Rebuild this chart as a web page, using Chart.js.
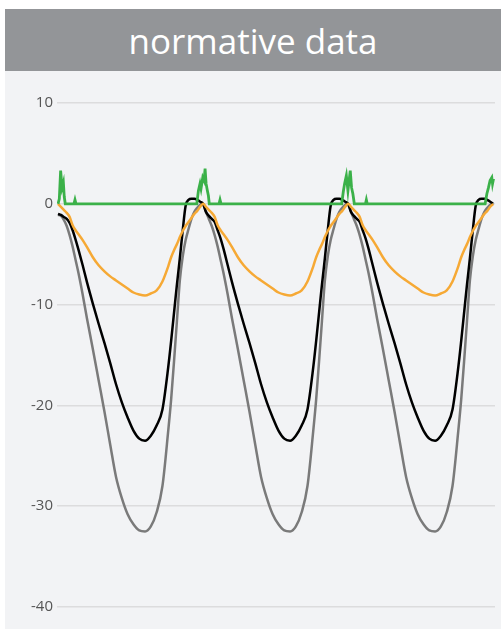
<!DOCTYPE html>
<html>
<head>
<meta charset="utf-8">
<script src="https://cdn.jsdelivr.net/npm/chart.js@4/dist/chart.umd.min.js"></script>
<style>
  html, body { margin: 0; padding: 0; background: #ffffff; }
  body { width: 501px; height: 629px; position: relative; overflow: hidden; }
  #title {
    position: absolute; left: 5px; top: 9px; width: 496px; height: 62px;
    background: #939598; color: #ffffff;
    font-family: "Open Sans", "Noto Sans", sans-serif; font-weight: 400; font-size: 35px;
    line-height: 64px; text-align: center; overflow: hidden;
  }
  #panel { position: absolute; left: 5px; top: 71px; width: 496px; height: 558px; background: #f2f3f5; }
  #chart { display: block; }
</style>
</head>
<body>
<div id="title">normative data</div>
<div id="panel"><canvas id="chart" width="496" height="558"></canvas></div>
<script>
// Phase of the breathing cycle (percent, three cycles back to back)
const phase = [
  0, 2, 4, 6, 8, 10, 12, 14, 17, 20, 24, 28, 32, 36, 40, 44, 48, 52, 56, 60, 64, 68, 72, 76, 78, 80, 82, 84, 86, 88, 90, 92, 94, 96, 98,
  100, 102, 104, 106, 108, 110, 112, 114, 117, 120, 124, 128, 132, 136, 140, 144, 148, 152, 156, 160, 164, 168, 172, 176, 178, 180, 182, 184, 186, 188, 190, 192, 194, 196, 198,
  200, 202, 204, 206, 208, 210, 212, 214, 217, 220, 224, 228, 232, 236, 240, 244, 248, 252, 256, 260, 264, 268, 272, 276, 278, 280, 282, 284, 286, 288, 290, 292, 294, 296, 298,
  300
];

const blackValues = [
  -1.0, -1.1, -1.3, -1.5, -1.9, -2.6, -3.5, -4.5, -6.1, -7.8, -9.9, -11.9, -13.8, -15.8, -17.9, -19.7, -21.2, -22.5, -23.3, -23.5, -23.0, -22.0, -20.4, -16.2, -13.6, -10.8, -8.0, -5.4, -2.6, -0.2, 0.4, 0.5, 0.5, 0.4, 0.2,
  0, -0.8, -1.2, -1.5, -1.8, -2.6, -3.4, -4.4, -6.1, -7.8, -9.9, -11.9, -13.8, -15.8, -17.9, -19.7, -21.2, -22.5, -23.3, -23.5, -23.0, -22.0, -20.4, -16.2, -13.6, -10.8, -8.0, -5.4, -2.6, -0.2, 0.4, 0.5, 0.5, 0.4, 0.2,
  0, -0.8, -1.2, -1.5, -1.8, -2.6, -3.4, -4.4, -6.1, -7.8, -9.9, -11.9, -13.8, -15.8, -17.9, -19.7, -21.2, -22.5, -23.3, -23.5, -23.0, -22.0, -20.4, -16.2, -13.6, -10.8, -8.0, -5.4, -2.6, -0.2, 0.4, 0.5, 0.5, 0.4, 0.2,
  0
];

const grayValues = [
  -1.1, -1.2, -1.6, -2.2, -3.1, -4.2, -5.5, -6.8, -9.0, -11.4, -14.4, -17.5, -20.6, -23.9, -27.1, -29.2, -30.8, -31.8, -32.4, -32.5, -32.0, -30.6, -28.0, -22.5, -19.4, -15.6, -11.6, -7.6, -5.2, -3.6, -2.5, -1.5, -0.8, -0.4, -0.1,
  0, -0.8, -1.5, -2.2, -3.1, -4.2, -5.5, -6.8, -9.0, -11.4, -14.4, -17.5, -20.6, -23.9, -27.1, -29.2, -30.8, -31.8, -32.4, -32.5, -32.0, -30.6, -28.0, -22.5, -19.4, -15.6, -11.6, -7.6, -5.2, -3.6, -2.5, -1.5, -0.8, -0.4, -0.1,
  0, -0.8, -1.5, -2.2, -3.1, -4.2, -5.5, -6.8, -9.0, -11.4, -14.4, -17.5, -20.6, -23.9, -27.1, -29.2, -30.8, -31.8, -32.4, -32.5, -32.0, -30.6, -28.0, -22.5, -19.4, -15.6, -11.6, -7.6, -5.2, -3.6, -2.5, -1.5, -0.8, -0.4, -0.1,
  0
];

const orangeValues = [
  0, -0.3, -0.6, -0.9, -1.3, -2.1, -2.6, -3.0, -3.6, -4.3, -5.3, -6.1, -6.7, -7.2, -7.6, -8.0, -8.4, -8.8, -9.0, -9.1, -8.9, -8.6, -7.7, -6.2, -5.3, -4.6, -4.0, -3.3, -2.7, -2.2, -1.8, -1.4, -1.0, -0.7, -0.3,
  0, -0.3, -0.6, -0.9, -1.3, -2.1, -2.6, -3.0, -3.6, -4.3, -5.3, -6.1, -6.7, -7.2, -7.6, -8.0, -8.4, -8.8, -9.0, -9.1, -8.9, -8.6, -7.7, -6.2, -5.3, -4.6, -4.0, -3.3, -2.7, -2.2, -1.8, -1.4, -1.0, -0.7, -0.3,
  0, -0.3, -0.6, -0.9, -1.3, -2.1, -2.6, -3.0, -3.6, -4.3, -5.3, -6.1, -6.7, -7.2, -7.6, -8.0, -8.4, -8.8, -9.0, -9.1, -8.9, -8.6, -7.7, -6.2, -5.3, -4.6, -4.0, -3.3, -2.7, -2.2, -1.8, -1.4, -1.0, -0.7, -0.3,
  0
];

// The green trace is sampled more finely around its bursts
const greenPhase = [
  0, 0.9, 1.8, 2.8, 3.7, 4.3, 5.0, 11.0, 11.7, 12.4,
  95.7, 96.8, 97.9, 98.6, 99.8, 100.7, 101.4, 102.1, 103.0, 103.7, 104.3, 111.0, 111.7, 112.4,
  195.6, 196.7, 197.6, 198.8, 199.9, 201.5, 202.4, 203.3, 204.3, 212.0, 212.6, 213.2,
  294.5, 295.7, 296.8, 297.9, 299.1, 299.6, 300.3
];
const greenValues = [
  0, 0.5, 3.3, 1.6, 2.1, 0.7, 0, 0, 0.4, 0,
  0, 1.3, 2.0, 1.5, 2.6, 2.3, 3.5, 2.0, 1.3, 0.8, 0, 0, 0.4, 0,
  0, 1.2, 2.0, 2.8, 1.3, 3.3, 1.6, 1.0, 0, 0, 0.4, 0,
  0, 1.0, 1.6, 2.3, 2.6, 2.0, 2.5
];

const yTicks = [10, 0, -10, -20, -30, -40];

function points(xs, ys) {
  return ys.map((y, i) => ({ x: xs[i], y: y }));
}

function lineSet(data, color, width, smooth) {
  return {
    data: data,
    borderColor: color,
    borderWidth: width,
    pointRadius: 0,
    fill: false,
    tension: 0,
    cubicInterpolationMode: smooth ? 'monotone' : 'default'
  };
}

new Chart(document.getElementById('chart'), {
  type: 'line',
  data: {
    datasets: [
      lineSet(points(greenPhase, greenValues), '#3bb149', 2.8, false),
      lineSet(points(phase, orangeValues), '#f6a935', 2.5, true),
      lineSet(points(phase, blackValues), '#000000', 2.5, true),
      lineSet(points(phase, grayValues), '#7a7a7a', 2.5, true)
    ]
  },
  options: {
    responsive: false,
    animation: false,
    events: [],
    layout: { padding: { top: 32, bottom: 22, right: 6, left: 0 } },
    plugins: { legend: { display: false }, tooltip: { enabled: false } },
    scales: {
      x: { type: 'linear', display: false, min: -0.7, max: 301.3 },
      y: {
        min: -40, max: 10,
        afterFit: (s) => { s.width = 52; },
        afterBuildTicks: (s) => { s.ticks = yTicks.map(v => ({ value: v })); },
        border: { display: false },
        grid: { color: '#dcdcdd', lineWidth: 1.5, drawTicks: false },
        ticks: {
          padding: 4,
          color: '#555555',
          font: { family: 'Open Sans', size: 15 },
          callback: (v) => String(v)
        }
      }
    }
  }
});
</script>
</body>
</html>
